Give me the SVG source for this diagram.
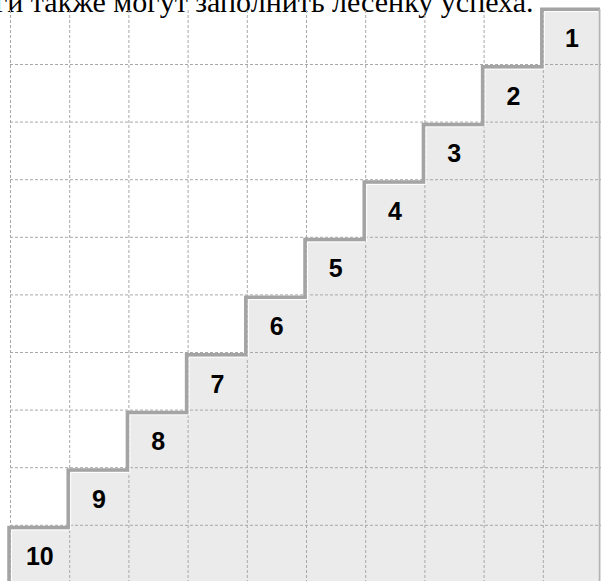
<svg xmlns="http://www.w3.org/2000/svg" width="601" height="581" viewBox="0 0 601 581">
<style>
.grid{stroke:#a8a8a8;stroke-width:1;stroke-dasharray:3,2;fill:none}
.step{fill:none;stroke:#a4a4a4;stroke-width:3.5}
.hl{fill:none;stroke:#ffffff;stroke-width:1}
.num{font-family:"Liberation Sans",Arial,sans-serif;font-weight:bold;font-size:25px;fill:#000;text-anchor:middle}
.cap{font-family:"Liberation Serif","Times New Roman",serif;font-size:30px;fill:#000}
</style>
<rect x="0" y="0" width="601" height="581" fill="#ffffff"/>
<text class="cap" x="-5" y="12">ги также могут заполнить лесенку успеха.</text>
<path d="M 9 581 V 527.6 H 68.2 V 470 H 127.4 V 412.4 H 186.6 V 354.8 H 245.8 V 297.2 H 305 V 239.6 H 364.2 V 182 H 423.4 V 124.4 H 482.6 V 66.8 H 541.8 V 9.2 H 601 V 581 Z" fill="#ebebeb"/>
<g id="grid">
<path class="grid" d="M10.5 10 V581 M69.7 10 V581 M128.9 10 V581 M188.1 10 V581 M247.3 10 V581 M306.5 10 V581 M365.7 10 V581 M424.9 10 V581 M484.1 10 V581 M543.3 10 V581"/>
<path class="grid" d="M10 64.5 H601 M10 122.1 H601 M10 179.7 H601 M10 237.3 H601 M10 294.9 H601 M10 352.5 H601 M10 410.1 H601 M10 467.7 H601 M10 525.3 H601"/>
</g>
<g id="connectors">
<path class="hl" d="M 11.5 581 V 530 H 70.7 V 472.4 H 129.9 V 414.8 H 189.1 V 357.2 H 248.3 V 299.6 H 307.5 V 242 H 366.7 V 184.4 H 425.9 V 126.8 H 485.1 V 69.2 H 544.3 V 11.6 H 598"/>
<path class="step" d="M 9 581 V 527.6 H 68.2 V 470 H 127.4 V 412.4 H 186.6 V 354.8 H 245.8 V 297.2 H 305 V 239.6 H 364.2 V 182 H 423.4 V 124.4 H 482.6 V 66.8 H 541.8 V 9.2 H 600"/>
<path d="M 599.5 9 V 581" stroke="#b4b4b4" stroke-width="1.5" fill="none"/>
</g>
<g id="step1"><text class="num" x="572" y="47">1</text></g>
<g id="step2"><text class="num" x="513.4" y="104.6">2</text></g>
<g id="step3"><text class="num" x="454.2" y="162.2">3</text></g>
<g id="step4"><text class="num" x="395" y="219.8">4</text></g>
<g id="step5"><text class="num" x="335.8" y="277.4">5</text></g>
<g id="step6"><text class="num" x="276.6" y="335">6</text></g>
<g id="step7"><text class="num" x="217.4" y="392.6">7</text></g>
<g id="step8"><text class="num" x="158.2" y="450.2">8</text></g>
<g id="step9"><text class="num" x="99" y="507.8">9</text></g>
<g id="step10"><text class="num" x="39.8" y="565.4">10</text></g>
</svg>
